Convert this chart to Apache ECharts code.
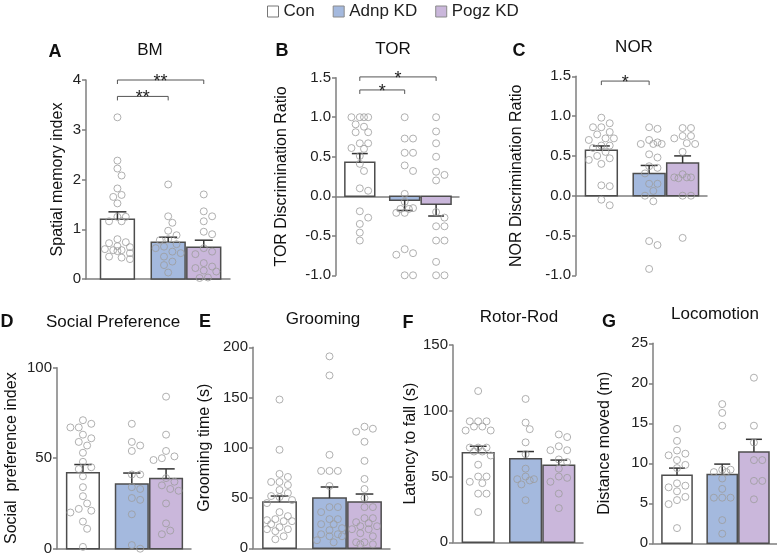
<!DOCTYPE html>
<html>
<head>
<meta charset="utf-8">
<script src="https://cdn.jsdelivr.net/npm/echarts@6/dist/echarts.min.js"></script>
<style>
  html, body { margin: 0; padding: 0; background: #fff; }
  #main { width: 777px; height: 557px; }
</style>
</head>
<body>
<div id="main"></div>
<script>
const groups = ['Con', 'Adnp KD', 'Pogz KD'];

// A - BM
const bmMean = [1.2, 0.74, 0.64];
const bmSem = [0.15, 0.1, 0.14];
const bmCon = [3.25, 2.38, 2.22, 2.08, 1.82, 1.69, 1.65, 1.52, 1.25, 1.25, 1.16, 1.16, 0.8, 0.74, 0.72, 0.66, 0.64, 0.6, 0.58, 0.58, 0.56, 0.52, 0.45, 0.43, 0.4];
const bmAdnp = [1.9, 1.26, 1.13, 0.97, 0.88, 0.8, 0.78, 0.7, 0.65, 0.62, 0.55, 0.52, 0.45, 0.35, 0.28, 0.13];
const bmPogz = [1.7, 1.36, 1.26, 1.16, 0.95, 0.9, 0.62, 0.55, 0.5, 0.32, 0.25, 0.22, 0.17, 0.15, 0.03, 0.02];

// B - TOR
const torMean = [0.43, -0.05, -0.1];
const torSem = [0.11, 0.13, 0.15];
const torCon = [1, 1, 1, 1, 0.91, 0.88, 0.81, 0.81, 0.67, 0.67, 0.61, 0.6, 0.51, 0.41, 0.32, 0.1, 0.07, -0.19, -0.27, -0.35, -0.46, -0.56];
const torAdnp = [1.0, 0.73, 0.73, 0.55, 0.55, 0.39, 0.32, 0.03, -0.07, -0.15, -0.16, -0.16, -0.21, -0.21, -0.67, -0.72, -0.74, -1.0, -1.0];
const torPogz = [1.0, 0.82, 0.67, 0.5, 0.31, 0.27, 0.2, -0.2, -0.27, -0.38, -0.38, -0.56, -0.56, -0.83, -1.0, -1.0];

// C - NOR
const norMean = [0.57, 0.28, 0.41];
const norSem = [0.055, 0.1, 0.09];
const norCon = [0.98, 0.91, 0.86, 0.86, 0.8, 0.77, 0.72, 0.72, 0.7, 0.63, 0.63, 0.6, 0.55, 0.5, 0.47, 0.45, 0.4, 0.13, 0.12, -0.05, -0.12];
const norAdnp = [0.86, 0.84, 0.7, 0.67, 0.65, 0.65, 0.65, 0.52, 0.48, 0.37, 0.35, 0.28, 0.15, 0.15, 0.06, 0.0, -0.07, -0.57, -0.62, -0.92];
const norPogz = [0.85, 0.85, 0.75, 0.75, 0.72, 0.66, 0.65, 0.55, 0.27, 0.23, 0.23, 0.23, 0.22, 0.0, 0.0, -0.53];

// D - Social preference
const spMean = [42, 35.8, 38.8];
const spSem = [4.5, 6, 5.3];
const spCon = [71, 69, 67, 67, 63, 61, 59, 57, 53, 48, 45, 44, 40, 34, 29, 25, 22, 21, 20, 15, 11, 1];
const spAdnp = [69, 59, 57, 54, 41, 41, 34, 33, 28, 27, 19, 2, 0];
const spPogz = [84, 63, 54, 51, 50, 49, 39, 37, 35, 33, 32, 25, 14, 10, 8];

// E - Grooming
const grMean = [46, 50, 46];
const grSem = [6, 11, 8];
const grCon = [148, 98, 74, 71, 66, 66, 63, 58, 55, 52, 51, 48, 45, 36, 32, 29, 28, 27, 27, 24, 21, 19, 19, 17, 12, 9];
const grAdnp = [191, 172, 93, 77, 77, 77, 62, 41, 41, 36, 29, 29, 24, 24, 20, 18, 14, 14, 12, 12, 8, 6];
const grPogz = [121, 119, 116, 106, 87, 69, 59, 50, 41, 41, 30, 30, 26, 25, 22, 22, 19, 19, 15, 12, 6, 6, 4, 4];

// F - Rotor-Rod
const rrMean = [68, 63.5, 58.5];
const rrSem = [5, 5.5, 4];
const rrCon = [115, 92, 92, 92, 88, 88, 85, 85, 72, 72, 72, 69, 69, 66, 59, 50, 50, 46, 45, 37, 37, 23];
const rrAdnp = [109, 91, 86, 76, 67, 56, 50, 48, 48, 47, 44, 32];
const rrPogz = [82, 80, 73, 70, 70, 63, 61, 56, 50, 49, 46, 37, 26];

// G - Locomotion
const locMean = [8.5, 8.6, 11.4];
const locSem = [0.9, 1.3, 1.6];
const locCon = [14.3, 12.8, 11.6, 11.2, 11.0, 10.4, 9.8, 9.4, 7.5, 7.2, 7.0, 6.5, 5.8, 5.4, 4.9, 1.9];
const locAdnp = [17.4, 16.3, 14.7, 9.2, 9.2, 8.9, 8.9, 8.1, 6.8, 5.7, 5.7, 5.7, 2.9, 1.2];
const locPogz = [20.7, 14.7, 12.6, 10.4, 10.4, 7.8, 7.8, 5.5];

// significance: [group a, group b, bracket level, label]
const bmSig = [[0, 1, 3.67, '**'], [0, 2, 4.0, '**']];
const torSig = [[0, 1, 1.345, '*'], [0, 2, 1.51, '*']];
const norSig = [[0, 1, 1.44, '*']];

const FONT = '"Liberation Sans", Arial, sans-serif';
const fills = ['#ffffff', '#a4b9de', '#cab7db'];
const groupX = [0, 1.47, 2.5];   // bar centres, in bar widths
const BAR_HALF = 0.49;
const CAP_HALF = 0.26;
const DOT = 7;

const panels = [
    { letter: 'A', title: 'BM', yName: 'Spatial memory index', mean: bmMean, sem: bmSem,
      pts: [bmCon, bmAdnp, bmPogz], sig: bmSig,
      box: [86, 80, 144, 199], x: [-0.91, 3.26], y: [0, 4, 1], dec: 0, nameGap: 20,
      t: [150, 50], l: [55, 52] },
    { letter: 'B', title: 'TOR', yName: 'TOR Discrimination Ratio', mean: torMean, sem: torSem,
      pts: [torCon, torAdnp, torPogz], sig: torSig,
      box: [336, 77.7, 123, 197.6], x: [-0.78, 3.25], y: [-1, 1.5, 0.5], dec: 1, nameGap: 46,
      t: [393, 49], l: [282, 51] },
    { letter: 'C', title: 'NOR', yName: 'NOR Discrimination Ratio', mean: norMean, sem: norSem,
      pts: [norCon, norAdnp, norPogz], sig: norSig,
      box: [576, 76.3, 131, 199], x: [-0.78, 3.25], y: [-1, 1.5, 0.5], dec: 1, nameGap: 51,
      t: [634, 47], l: [519, 51] },
    { letter: 'D', title: 'Social Preference', yName: 'Social  preference index', mean: spMean, sem: spSem,
      pts: [spCon, spAdnp, spPogz], sig: [],
      box: [57, 367.7, 134, 181], x: [-0.78, 3.25], y: [0, 100, 50], dec: 0, nameGap: 37,
      t: [113, 322], l: [7, 322] },
    { letter: 'E', title: 'Grooming', yName: 'Grooming time (s)', mean: grMean, sem: grSem,
      pts: [grCon, grAdnp, grPogz], sig: [],
      box: [253, 347.3, 137, 201], x: [-0.78, 3.25], y: [0, 200, 50], dec: 0, nameGap: 40,
      t: [323, 319], l: [205, 322] },
    { letter: 'F', title: 'Rotor-Rod', yName: 'Latency to fall (s)', mean: rrMean, sem: rrSem,
      pts: [rrCon, rrAdnp, rrPogz], sig: [],
      box: [453, 345, 130, 197.3], x: [-0.78, 3.25], y: [0, 150, 50], dec: 0, nameGap: 33,
      t: [519, 317], l: [408, 323] },
    { letter: 'G', title: 'Locomotion', yName: 'Distance moved (m)', mean: locMean, sem: locSem,
      pts: [locCon, locAdnp, locPogz], sig: [],
      box: [653, 343.3, 124, 200], x: [-0.78, 3.25], y: [0, 25, 5], dec: 0, nameGap: 40,
      t: [715, 314], l: [609, 322] }
];

// simple beeswarm: spread points sideways so circles do not overlap
function swarm(values, pxX, pxY) {
    const placed = [];
    const out = [];
    const d = DOT + 0.6;
    const maxOff = 0.4 * pxX;
    values.slice().sort((a, b) => b - a).forEach(v => {
        const y = v * pxY;
        let best = 0, bestGap = -1;
        for (let k = 0; k <= 14; k++) {
            const off = (k % 2 ? 1 : -1) * Math.ceil(k / 2) * d * 0.55;
            if (Math.abs(off) > maxOff) continue;
            let gap = Infinity;
            placed.forEach(p => { gap = Math.min(gap, Math.hypot(p[0] - off, p[1] - y)); });
            if (gap >= d) { best = off; bestGap = gap; break; }
            if (gap > bestGap) { bestGap = gap; best = off; }
        }
        placed.push([best, y]);
        out.push([best / pxX, v]);
    });
    return out;
}

function renderBar(params, api) {
    const x = api.value(0), v = api.value(1);
    const a = api.coord([x - BAR_HALF, 0]);
    const b = api.coord([x + BAR_HALF, v]);
    return {
        type: 'rect',
        shape: { x: a[0], y: Math.min(a[1], b[1]), width: b[0] - a[0], height: Math.abs(a[1] - b[1]) },
        style: { fill: api.visual('color'), stroke: '#4d4d4d', lineWidth: 1.5 }
    };
}

function renderErr(params, api) {
    const x = api.value(0), m = api.value(1), s = api.value(2);
    const end = m >= 0 ? m + s : m - s;
    const p0 = api.coord([x, m]);
    const p1 = api.coord([x, end]);
    const c0 = api.coord([x - CAP_HALF, end]);
    const c1 = api.coord([x + CAP_HALF, end]);
    const st = { stroke: '#333', lineWidth: 1.5 };
    return {
        type: 'group',
        children: [
            { type: 'line', shape: { x1: p0[0], y1: p0[1], x2: p1[0], y2: p1[1] }, style: st },
            { type: 'line', shape: { x1: c0[0], y1: c0[1], x2: c1[0], y2: c1[1] }, style: st }
        ]
    };
}

function renderSig(params, api, labels) {
    const a = api.coord([api.value(0), api.value(2)]);
    const b = api.coord([api.value(1), api.value(2)]);
    return {
        type: 'group',
        children: [
            { type: 'polyline',
              shape: { points: [[a[0], a[1] + 4], a, b, [b[0], b[1] + 4]] },
              style: { stroke: '#555', lineWidth: 1, fill: null } },
            { type: 'text', x: (a[0] + b[0]) / 2, y: a[1] + 2,
              style: { text: labels[params.dataIndex], fill: '#222', font: '18px ' + FONT,
                       align: 'center', verticalAlign: 'middle' } }
        ]
    };
}

const grid = [], xAxis = [], yAxis = [], series = [], graphic = [];
const axisColor = '#7f7f7f';

panels.forEach((p, i) => {
    const [left, top, width, height] = p.box;
    grid.push({ left, top, width, height, containLabel: false, outerBoundsMode: 'none' });
    xAxis.push({
        gridIndex: i, type: 'value', min: p.x[0], max: p.x[1],
        axisLine: { show: true, onZero: true, lineStyle: { color: axisColor, width: 1.5 } },
        axisTick: { show: false }, axisLabel: { show: false }, splitLine: { show: false }
    });
    yAxis.push({
        gridIndex: i, type: 'value', min: p.y[0], max: p.y[1], interval: p.y[2],
        name: p.yName, nameLocation: 'middle', nameRotate: 90, nameGap: p.nameGap,
        nameTextStyle: { fontFamily: FONT, fontSize: 16, color: '#111' },
        axisLine: { show: true, onZero: false, lineStyle: { color: axisColor, width: 1.5 } },
        axisTick: { show: true, length: 4, lineStyle: { color: axisColor, width: 1.5 } },
        axisLabel: { fontFamily: FONT, fontSize: 15, color: '#222', margin: 5,
                     formatter: v => v.toFixed(p.dec) },
        splitLine: { show: false }
    });

    const pxX = width / (p.x[1] - p.x[0]);
    const pxY = height / (p.y[1] - p.y[0]);

    groups.forEach((g, k) => {
        series.push({
            type: 'custom', name: g, xAxisIndex: i, yAxisIndex: i, z: 2,
            itemStyle: { color: fills[k] },
            encode: { x: 0, y: 1 },
            renderItem: renderBar,
            data: [[groupX[k], p.mean[k]]]
        });
    });
    series.push({
        type: 'custom', name: 'sem', xAxisIndex: i, yAxisIndex: i, z: 3,
        encode: { x: 0, y: 1 },
        renderItem: renderErr,
        data: groups.map((g, k) => [groupX[k], p.mean[k], p.sem[k]])
    });
    groups.forEach((g, k) => {
        series.push({
            type: 'scatter', name: 'pts', xAxisIndex: i, yAxisIndex: i, z: 4,
            symbol: 'circle', symbolSize: DOT,
            itemStyle: { color: 'rgba(255,255,255,0)', borderColor: '#9c9c9c', borderWidth: 1 },
            emphasis: { disabled: true },
            data: swarm(p.pts[k], pxX, pxY).map(d => [groupX[k] + d[0], d[1]])
        });
    });
    if (p.sig.length) {
        const labels = p.sig.map(s => s[3]);
        series.push({
            type: 'custom', name: 'sig', xAxisIndex: i, yAxisIndex: i, z: 5,
            encode: { x: [0, 1], y: 2 },
            renderItem: (params, api) => renderSig(params, api, labels),
            data: p.sig.map(s => [groupX[s[0]], groupX[s[1]], s[2]])
        });
    }

    graphic.push({
        type: 'text', x: p.t[0], y: p.t[1],
        style: { text: p.title, fill: '#111', font: '17px ' + FONT,
                 align: 'center', verticalAlign: 'middle' }
    });
    graphic.push({
        type: 'text', x: p.l[0], y: p.l[1],
        style: { text: p.letter, fill: '#111', font: 'bold 18px ' + FONT,
                 align: 'center', verticalAlign: 'middle' }
    });
});

const chart = echarts.init(document.getElementById('main'), null, { renderer: 'canvas' });
chart.setOption({
    animation: false,
    backgroundColor: '#fff',
    legend: {
        left: 267, top: 3, padding: 0, itemGap: 18, itemWidth: 11, itemHeight: 11,
        icon: 'rect', selectedMode: false,
        textStyle: { fontFamily: FONT, fontSize: 17, color: '#222' },
        data: groups.map((g, k) => ({
            name: g,
            itemStyle: { color: fills[k], borderColor: k === 0 ? '#777' : '#8a8a8a', borderWidth: 1 }
        }))
    },
    grid, xAxis, yAxis, series, graphic
});
</script>
</body>
</html>
